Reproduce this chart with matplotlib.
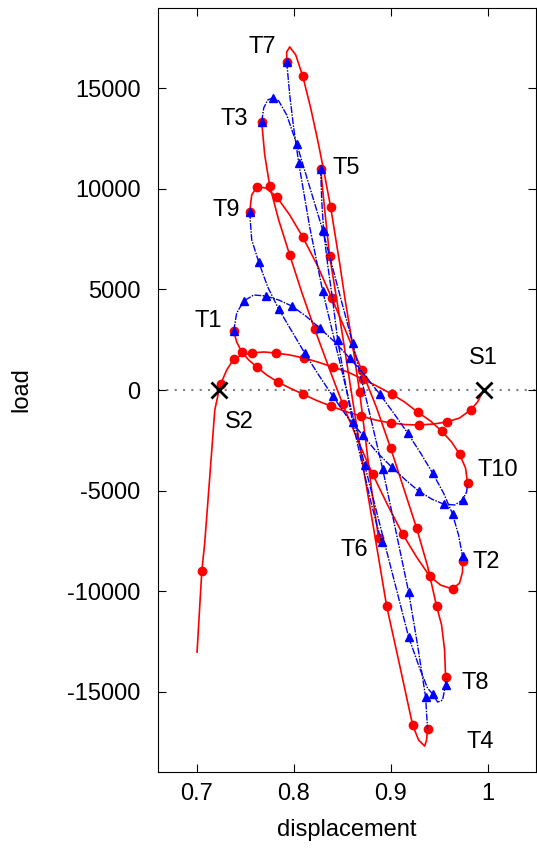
import matplotlib
matplotlib.use('Agg')
import matplotlib.pyplot as plt

plt.rcParams['font.family'] = ['Liberation Sans', 'DejaVu Sans']

# solid path pieces (S1->T1, T2->T3, T4->T5, T6->T7, T8->T9, T10->S2)
red_s1_t1_x = [0.996, 0.9897, 0.9825, 0.9711, 0.9577, 0.9443, 0.9289, 0.9144, 0.9000, 0.8845, 0.8691, 0.8536,
               0.8381, 0.8237, 0.8093, 0.7959, 0.7835, 0.7722, 0.7619, 0.7536, 0.7464, 0.7412, 0.7381]
red_s1_t1_y = [0, -597, -995, -1393, -1592, -1692, -1741, -1717, -1642, -1493, -1294, -1070,
               -796, -522, -199, 100, 398, 746, 1144, 1493, 1891, 2388, 2935]
red_s1_t1_m = [2, 4, 6, 8, 10, 12, 14, 16, 18, 20, 22]

red_t2_t3_x = [0.9742, 0.9742, 0.9711, 0.9639, 0.9515, 0.9402, 0.9268, 0.9124, 0.8969, 0.8814, 0.8660, 0.8505,
               0.8361, 0.8216, 0.8082, 0.7959, 0.7845, 0.7753, 0.7701, 0.7670]
red_t2_t3_y = [-8507, -9055, -9602, -9900, -9701, -9254, -8308, -7164, -5721, -4179, -2488, -697,
               1144, 3035, 4876, 6716, 8457, 10149, 11691, 13333]
red_t2_t3_m = [0, 3, 5, 7, 9, 11, 13, 15, 17, 19]

red_t4_t5_x = [0.9381, 0.9371, 0.9351, 0.9289, 0.9227, 0.9093, 0.8959, 0.8845, 0.8722, 0.8608, 0.8495,
               0.8371, 0.8320, 0.8278]
red_t4_t5_y = [-16865, -17413, -17711, -17413, -16666, -13681, -10746, -7463, -3980, -498, 2985,
               6667, 8955, 10995]
red_t4_t5_m = [0, 4, 6, 11, 13]

red_t6_t7_x = [0.8876, 0.8804, 0.8742, 0.8680, 0.8608, 0.8531, 0.8474, 0.8381, 0.8309, 0.8247, 0.8175,
               0.8093, 0.8021, 0.7959, 0.7928, 0.7928]
red_t6_t7_y = [-7363, -4975, -2488, -100, 2239, 4478, 6318, 9104, 10945, 12438, 14030,
               15622, 16666, 17064, 16816, 16318]
red_t6_t7_m = [0, 3, 7, 11, 15]

red_t8_t9_x = [0.9567, 0.9557, 0.9526, 0.9474, 0.9381, 0.9268, 0.9134, 0.9000, 0.8856, 0.8701, 0.8546,
               0.8392, 0.8247, 0.8093, 0.7959, 0.7825, 0.7711, 0.7619, 0.7567, 0.7546]
red_t8_t9_y = [-14279, -12935, -11691, -10746, -8756, -6866, -4876, -2886, -896, 995, 2836,
               4577, 6169, 7612, 8706, 9602, 10050, 10099, 9701, 8856]
red_t8_t9_m = [0, 3, 5, 7, 9, 11, 13, 15, 17, 19]

red_t10_s2_x = [0.9794, 0.9773, 0.9711, 0.9629, 0.9526, 0.9412, 0.9278, 0.9144, 0.9010, 0.8856, 0.8711,
                0.8557, 0.8402, 0.8247, 0.8103, 0.7959, 0.7814, 0.7691, 0.7567, 0.7464, 0.7381, 0.7309,
                0.7247, 0.7230, 0.7186, 0.7134, 0.7082, 0.7052, 0.7003]
red_t10_s2_y = [-4627, -3881, -3184, -2587, -2040, -1542, -1095, -597, -199, 199, 547,
                896, 1144, 1393, 1592, 1741, 1841, 1891, 1841, 1741, 1542, 995,
                299, 0, -995, -4328, -7612, -9005, -13035]
red_t10_s2_m = [0, 2, 4, 6, 8, 10, 12, 14, 16, 18, 20, 22, 27]

# dash-dot path pieces (T1->T2, T3->T4, T5->T6, T7->T8, T9->T10)
blue_t1_t2_x = [0.7381, 0.7412, 0.7485, 0.7588, 0.7711, 0.7845, 0.7979, 0.8124, 0.8268, 0.8423, 0.8577,
                0.8732, 0.8887, 0.9031, 0.9175, 0.9309, 0.9433, 0.9546, 0.9639, 0.9701, 0.9742, 0.9742]
blue_t1_t2_y = [2935, 3831, 4428, 4726, 4677, 4478, 4179, 3682, 3085, 2388, 1592,
                746, -199, -1144, -2139, -3134, -4129, -5124, -6169, -7214, -8259, -8507]
blue_t1_t2_m = [0, 2, 4, 6, 8, 10, 12, 14, 16, 18, 20]

blue_t3_t4_x = [0.7670, 0.7691, 0.7732, 0.7784, 0.7845, 0.7928, 0.8031, 0.8165, 0.8299, 0.8454, 0.8608,
                0.8763, 0.8918, 0.9052, 0.9186, 0.9278, 0.9361, 0.9381]
blue_t3_t4_y = [13350, 14030, 14428, 14527, 14378, 13681, 12239, 10099, 7960, 5124, 2338,
                -746, -3930, -6965, -10050, -12687, -15273, -16865]
blue_t3_t4_m = [0, 3, 6, 8, 10, 12, 14, 16]

blue_t5_t6_x = [0.8278, 0.8289, 0.8309, 0.8351, 0.8402, 0.8454, 0.8536, 0.8608, 0.8701, 0.8804, 0.8907]
blue_t5_t6_y = [10995, 9453, 7910, 6219, 4478, 2488, 249, -1592, -3582, -5721, -7562]
blue_t5_t6_m = [0, 2, 5, 7, 10]

blue_t7_t8_x = [0.7928, 0.7959, 0.8000, 0.8052, 0.8165, 0.8299, 0.8515, 0.8732, 0.8959, 0.9186, 0.9299,
                0.9381, 0.9433, 0.9485, 0.9536, 0.9567, 0.9567]
blue_t7_t8_y = [16318, 14676, 13035, 11293, 8109, 4925, 597, -3731, -8010, -12288, -13831,
                -14826, -15124, -15522, -15423, -14676, -14279]
blue_t7_t8_m = [0, 3, 5, 7, 9, 12, 15]

blue_t9_t10_x = [0.7546, 0.7567, 0.7639, 0.7732, 0.7845, 0.7979, 0.8113, 0.8258, 0.8402, 0.8546, 0.8711,
                 0.8856, 0.9010, 0.9155, 0.9289, 0.9423, 0.9546, 0.9660, 0.9742, 0.9784, 0.9794]
blue_t9_t10_y = [8856, 7463, 6368, 5124, 4030, 2935, 1841, 746, -299, -1294, -2239,
                 -3085, -3831, -4478, -5025, -5423, -5672, -5721, -5473, -5074, -4627]
blue_t9_t10_m = [0, 2, 4, 6, 8, 10, 12, 14, 16, 18]

# stable states and turning point labels
s_x = [0.996, 0.723]
s_y = [0, 0]
label_text = ['S1', 'S2', 'T1', 'T2', 'T3', 'T4', 'T5', 'T6', 'T7', 'T8', 'T9', 'T10']
label_x = [0.996, 0.744, 0.712, 0.999, 0.739, 0.992, 0.854, 0.863, 0.768, 0.987, 0.730, 1.011]
label_y = [1600, -1600, 3430, -8560, 13480, -17510, 11050, -7960, 17060, -14580, 8950, -3980]


def draw_red(ax, x, y, marks):
    ax.plot(x, y, color='red', lw=1.2, marker='o', ms=6, markevery=marks, zorder=3)


def draw_blue(ax, x, y, marks):
    # blue dashes with a dark dot in every gap
    ax.plot(x, y, color='black', lw=1, linestyle=(2, (1, 7)), zorder=4)
    ax.plot(x, y, color='blue', lw=1, linestyle=(0, (5, 3)), marker='^', ms=5.5,
            markevery=marks, zorder=5)


fig = plt.figure(figsize=(5.37, 8.56), dpi=100)
ax = fig.add_axes([158 / 537, 1 - 772 / 856, 378 / 537, 764 / 856])

ax.axhline(0, color='#808080', lw=1.5, linestyle=(0, (1, 3)), zorder=1)

draw_red(ax, red_s1_t1_x, red_s1_t1_y, red_s1_t1_m)
draw_red(ax, red_t2_t3_x, red_t2_t3_y, red_t2_t3_m)
draw_red(ax, red_t4_t5_x, red_t4_t5_y, red_t4_t5_m)
draw_red(ax, red_t6_t7_x, red_t6_t7_y, red_t6_t7_m)
draw_red(ax, red_t8_t9_x, red_t8_t9_y, red_t8_t9_m)
draw_red(ax, red_t10_s2_x, red_t10_s2_y, red_t10_s2_m)

draw_blue(ax, blue_t1_t2_x, blue_t1_t2_y, blue_t1_t2_m)
draw_blue(ax, blue_t3_t4_x, blue_t3_t4_y, blue_t3_t4_m)
draw_blue(ax, blue_t5_t6_x, blue_t5_t6_y, blue_t5_t6_m)
draw_blue(ax, blue_t7_t8_x, blue_t7_t8_y, blue_t7_t8_m)
draw_blue(ax, blue_t9_t10_x, blue_t9_t10_y, blue_t9_t10_m)

ax.plot(s_x, s_y, linestyle='none', marker='x', color='black', ms=11, mew=2, zorder=6)

for t, x, y in zip(label_text, label_x, label_y):
    ax.text(x, y, t, fontsize=17, ha='center', va='center')

ax.set_xlim(0.66, 1.05)
ax.set_ylim(-19000, 19000)
ax.set_xticks([0.7, 0.8, 0.9, 1.0])
ax.set_xticklabels(['0.7', '0.8', '0.9', '1'])
ax.set_yticks([-15000, -10000, -5000, 0, 5000, 10000, 15000])
ax.set_yticklabels(['-15000', '-10000', '-5000', '0', '5000', '10000', '15000'])
ax.tick_params(direction='in', length=6, top=True, right=True, labelsize=17, pad=12.5)
ax.tick_params(axis='x', pad=8)
ax.set_xlabel('displacement', fontsize=17, labelpad=10)
ax.set_ylabel('load', fontsize=17, labelpad=25)

fig.savefig('out.png', dpi=100)
